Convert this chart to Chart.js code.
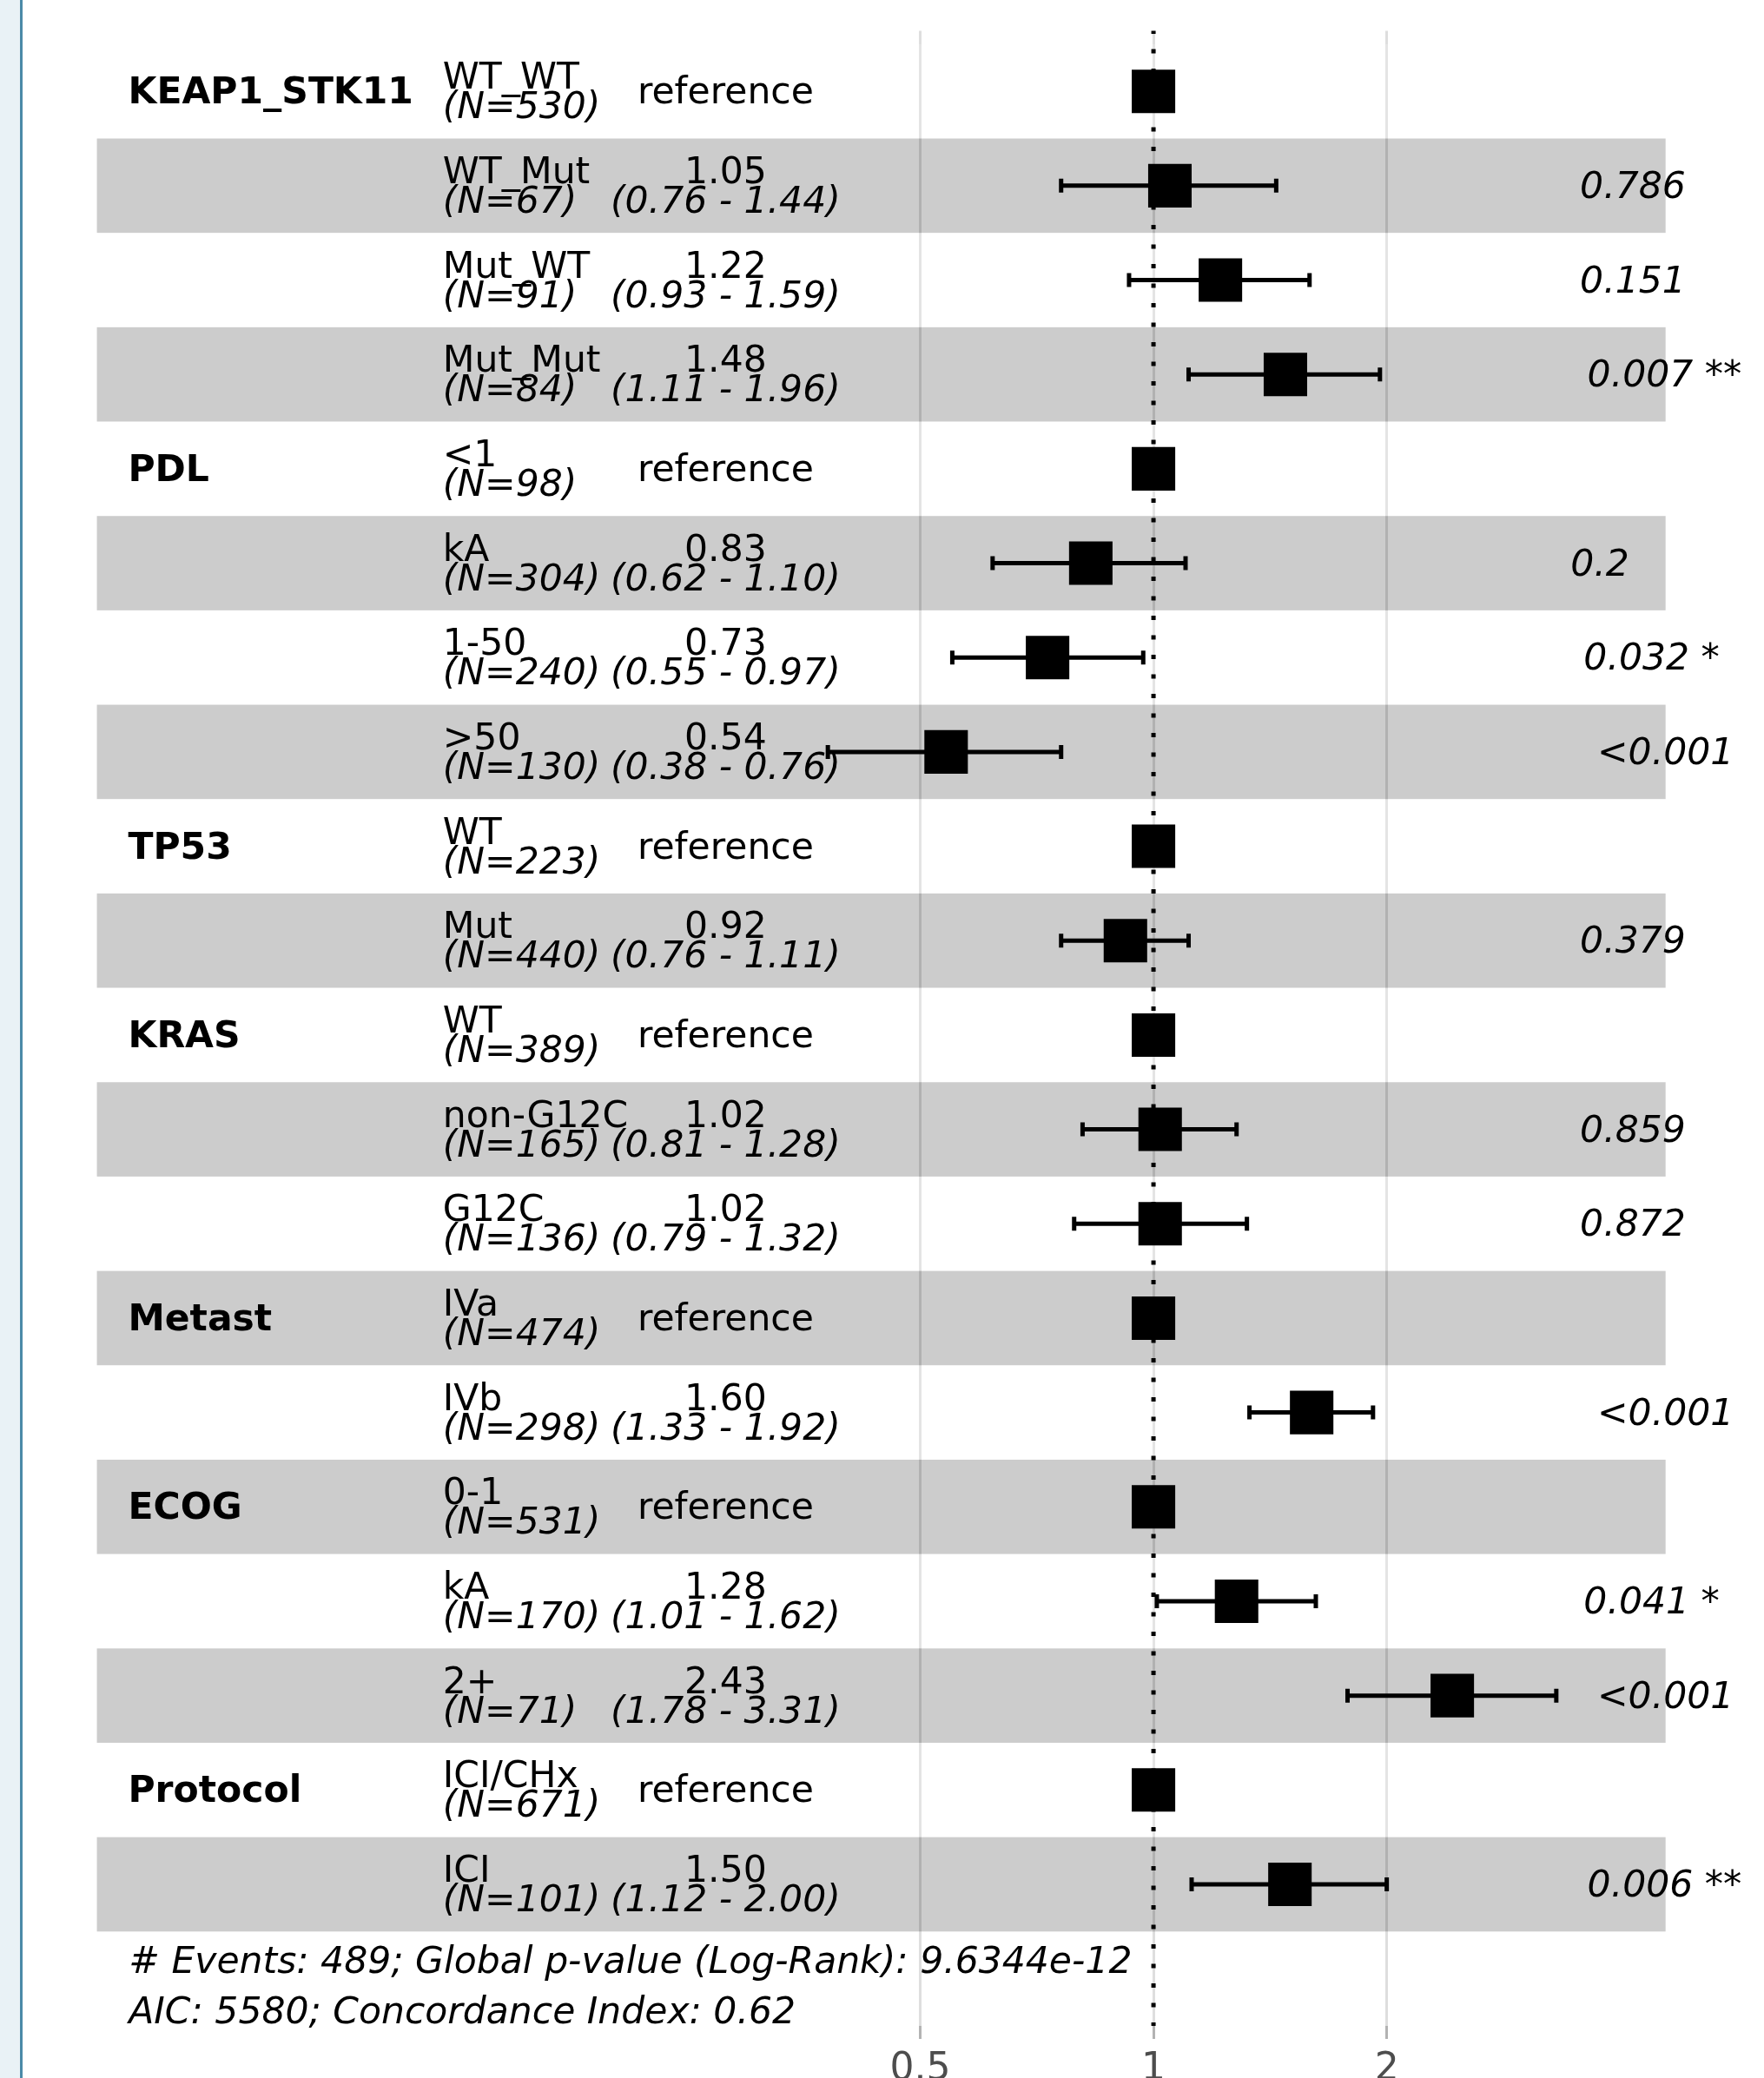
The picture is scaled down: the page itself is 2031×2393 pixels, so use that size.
<!DOCTYPE html>
<html>
<head>
<meta charset="utf-8">
<script src="https://cdn.jsdelivr.net/npm/chart.js@4.4.1/dist/chart.umd.min.js"></script>
<style>
  html, body { margin: 0; padding: 0; background: #fff; }
  #strip { position: absolute; left: 0; top: 0; width: 23px; height: 2393px; background: #e9f2f6; border-right: 3px solid #4b8aa8; }
  #c { position: absolute; left: 0; top: 0; }
</style>
</head>
<body>
<div id="strip"></div>
<canvas id="c" width="2031" height="2393"></canvas>
<script>
// rows of the cox model, top to bottom
const variables = ['KEAP1_STK11', '', '', '', 'PDL', '', '', '', 'TP53', '', 'KRAS', '', '', 'Metast', '', 'ECOG', '', '', 'Protocol', '']
const levels = ['WT_WT', 'WT_Mut', 'Mut_WT', 'Mut_Mut', '<1', 'kA', '1-50', '>50', 'WT', 'Mut', 'WT', 'non-G12C', 'G12C', 'IVa', 'IVb', '0-1', 'kA', '2+', 'ICI/CHx', 'ICI']
const counts = [530, 67, 91, 84, 98, 304, 240, 130, 223, 440, 389, 165, 136, 474, 298, 531, 170, 71, 671, 101]
const hazard = [1, 1.05, 1.22, 1.48, 1, 0.83, 0.73, 0.54, 1, 0.92, 1, 1.02, 1.02, 1, 1.60, 1, 1.28, 2.43, 1, 1.50]
const ciLow = [null, 0.76, 0.93, 1.11, null, 0.62, 0.55, 0.38, null, 0.76, null, 0.81, 0.79, null, 1.33, null, 1.01, 1.78, null, 1.12]
const ciHigh = [null, 1.44, 1.59, 1.96, null, 1.10, 0.97, 0.76, null, 1.11, null, 1.28, 1.32, null, 1.92, null, 1.62, 3.31, null, 2.00]
const pValues = ['', '0.786', '0.151', '0.007', '', '0.2', '0.032', '<0.001', '', '0.379', '', '0.859', '0.872', '', '<0.001', '', '0.041', '<0.001', '', '0.006']
const stars = ['', '', '', '**', '', '', '*', '***', '', '', '', '', '', '', '***', '', '*', '***', '', '**']
const tickValues = [0.5, 1, 2]
const notes = ['# Events: 489; Global p-value (Log-Rank): 9.6344e-12', 'AIC: 5580; Concordance Index: 0.62']

// x range of the panel and of the striped rects (hazard ratio scale)
const plotRange = [0.0394, 5.03]
const stripeRange = [0.0433, 4.58]
// text columns, in hazard ratio units
const colVar = 0.0475, colLevel = 0.121, colEst = 0.2804, colP = 3.312, colNote = 0.0476
const imageRight = 2004 // the figure is cut off here

const FONT = '"DejaVu Sans"'
const SIZE = '42.5px '
const isRef = i => ciLow[i] === null

const forestPlugin = {
  id: 'forest',
  beforeDatasetsDraw(chart) {
    const { ctx, chartArea, scales: { x, y } } = chart
    ctx.save()
    // stripes
    levels.forEach((_, i) => {
      const top = y.getPixelForValue(i + 0.5)
      const bottom = y.getPixelForValue(i + 1.5)
      const left = x.getPixelForValue(stripeRange[0])
      const right = x.getPixelForValue(stripeRange[1])
      ctx.fillStyle = i % 2 === 1 ? 'rgba(0,0,0,0.2)' : 'rgba(255,255,255,0.2)'
      ctx.fillRect(left, top, right - left, bottom - top)
    })
    // dotted reference line at HR = 1
    const x1 = x.getPixelForValue(1)
    ctx.strokeStyle = '#000'
    ctx.lineWidth = 5
    ctx.setLineDash([5, 17.5])
    ctx.lineDashOffset = 1.5
    ctx.beginPath()
    ctx.moveTo(x1, chartArea.top)
    ctx.lineTo(x1, chartArea.bottom)
    ctx.stroke()
    ctx.setLineDash([])
    // confidence intervals
    ctx.lineWidth = 5
    levels.forEach((_, i) => {
      if (isRef(i)) return
      const yc = y.getPixelForValue(i + 1)
      const a = x.getPixelForValue(ciLow[i])
      const b = x.getPixelForValue(ciHigh[i])
      ctx.beginPath()
      ctx.moveTo(a, yc); ctx.lineTo(b, yc)
      ctx.moveTo(a, yc - 8); ctx.lineTo(a, yc + 8)
      ctx.moveTo(b, yc - 8); ctx.lineTo(b, yc + 8)
      ctx.stroke()
    })
    ctx.restore()
  },
  afterDatasetsDraw(chart) {
    const { ctx, scales: { x, y } } = chart
    ctx.save()
    ctx.beginPath()
    ctx.rect(0, 0, imageRight, chart.height)
    ctx.clip()
    ctx.fillStyle = '#000'
    ctx.textBaseline = 'alphabetic'
    levels.forEach((lvl, i) => {
      const yc = y.getPixelForValue(i + 1)
      // variable name
      if (variables[i]) {
        ctx.font = 'bold ' + SIZE + FONT
        ctx.textAlign = 'left'
        ctx.fillText(variables[i], x.getPixelForValue(colVar), yc + 14)
      }
      // level + N
      ctx.textAlign = 'left'
      ctx.font = SIZE + FONT
      ctx.fillText(lvl, x.getPixelForValue(colLevel), yc - 3)
      ctx.font = 'italic ' + SIZE + FONT
      ctx.fillText('(N=' + counts[i] + ')', x.getPixelForValue(colLevel), yc + 31)
      // estimate + CI
      ctx.textAlign = 'center'
      const xe = x.getPixelForValue(colEst)
      if (isRef(i)) {
        ctx.font = SIZE + FONT
        ctx.fillText('reference', xe, yc + 14)
      } else {
        ctx.font = SIZE + FONT
        ctx.fillText(hazard[i].toFixed(2), xe, yc - 3)
        ctx.font = 'italic ' + SIZE + FONT
        ctx.fillText('(' + ciLow[i].toFixed(2) + ' - ' + ciHigh[i].toFixed(2) + ')', xe, yc + 31)
      }
      // p-value, hjust = -0.2
      if (pValues[i]) {
        ctx.font = 'italic ' + SIZE + FONT
        ctx.textAlign = 'left'
        const label = pValues[i] + ' ' + stars[i]
        const w = ctx.measureText(label).width
        ctx.fillText(label, x.getPixelForValue(colP) + 0.2 * w, yc + 14)
      }
    })
    // footnote
    const yb = y.getPixelForValue(levels.length + 0.5)
    ctx.font = 'italic ' + SIZE + FONT
    ctx.textAlign = 'left'
    notes.forEach((t, k) => ctx.fillText(t, x.getPixelForValue(colNote), yb + 48 + k * 58))
    ctx.restore()
  }
}

new Chart(document.getElementById('c'), {
  type: 'scatter',
  data: {
    datasets: [{
      data: hazard.map((h, i) => ({ x: h, y: i + 1 })),
      pointStyle: 'rect',
      pointRadius: 35.4,
      backgroundColor: '#000',
      borderWidth: 0,
      clip: false
    }]
  },
  options: {
    responsive: false,
    animation: false,
    devicePixelRatio: 1,
    events: [],
    layout: { padding: { left: 75, right: 77, top: 34, bottom: 0 } },
    plugins: { legend: { display: false }, tooltip: { enabled: false } },
    scales: {
      x: {
        type: 'logarithmic',
        min: plotRange[0],
        max: plotRange[1],
        bounds: 'data',
        afterBuildTicks: s => { s.ticks = tickValues.map(v => ({ value: v })) },
        afterFit: s => { s.height = 60 },
        grid: { color: '#dedede', lineWidth: 3, tickColor: '#b3b3b3', tickLength: 15, tickWidth: 3 },
        border: { display: false },
        ticks: {
          autoSkip: false,
          maxRotation: 0,
          padding: 9,
          color: '#4d4d4d',
          font: { family: 'DejaVu Sans', size: 44 },
          callback: v => String(v)
        }
      },
      y: {
        type: 'linear',
        min: 0.358,
        max: 21.5,
        reverse: true,
        display: false
      }
    }
  },
  plugins: [forestPlugin]
})
</script>
</body>
</html>
